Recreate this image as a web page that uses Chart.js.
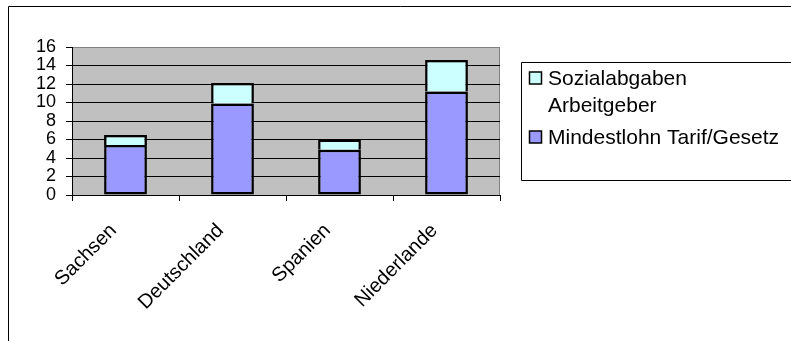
<!DOCTYPE html>
<html>
<head>
<meta charset="utf-8">
<script src="https://cdn.jsdelivr.net/npm/chart.js@4"></script>
<style>
  html, body { margin: 0; padding: 0; background: #fff; }
  canvas { display: block; }
</style>
</head>
<body>
<canvas id="c" width="791" height="341"></canvas>
<script>
// Hourly labour cost: minimum wage plus employer social contributions (EUR)
const categories = ['Sachsen', 'Deutschland', 'Spanien', 'Niederlande'];
const mindestlohn = [5.4, 9.9, 4.9, 11.2];
const sozialabgaben = [1.1, 2.2, 1.1, 3.4];
const yTicks = [0, 2, 4, 6, 8, 10, 12, 14, 16];

// legend text, line by line
const labelMindestlohn = ['Mindestlohn Tarif/Gesetz'];
const labelSozialabgaben = ['Sozialabgaben', 'Arbeitgeber'];

const FONT = '"Liberation Sans", Arial, sans-serif';

// Page frame, plot-area fill and the boxed legend on the right
const framePlugin = {
  id: 'frame',
  beforeDraw(chart) {
    const ctx = chart.ctx;
    const a = chart.chartArea;
    ctx.save();
    ctx.fillStyle = '#ffffff';
    ctx.fillRect(0, 0, chart.width, chart.height);

    // outer frame (top and left edges visible)
    ctx.strokeStyle = '#000000';
    ctx.lineWidth = 1;
    ctx.beginPath();
    ctx.moveTo(8.5, chart.height + 2);
    ctx.lineTo(8.5, 6.5);
    ctx.lineTo(chart.width + 2, 6.5);
    ctx.stroke();

    // plot area
    ctx.fillStyle = '#c0c0c0';
    ctx.fillRect(a.left, a.top, a.right - a.left, a.bottom - a.top);
    ctx.strokeStyle = '#808080';
    ctx.beginPath();
    ctx.moveTo(a.left, a.top + 0.5);
    ctx.lineTo(a.right - 0.5, a.top + 0.5);
    ctx.lineTo(a.right - 0.5, a.bottom);
    ctx.stroke();

    // legend box
    const lb = { left: 521.5, top: 62.5, bottom: 180.5 };
    ctx.strokeStyle = '#000000';
    ctx.beginPath();
    ctx.moveTo(chart.width + 2, lb.top);
    ctx.lineTo(lb.left, lb.top);
    ctx.lineTo(lb.left, lb.bottom);
    ctx.lineTo(chart.width + 2, lb.bottom);
    ctx.stroke();

    // legend entries, top series first
    const items = chart.data.datasets.slice().reverse();
    ctx.font = '21px ' + FONT;
    ctx.textBaseline = 'middle';
    ctx.textAlign = 'left';
    let y = 78;
    items.forEach(ds => {
      ctx.fillStyle = ds.backgroundColor;
      ctx.fillRect(529.5, y - 6, 12, 12);
      ctx.strokeStyle = '#000000';
      ctx.lineWidth = 1.5;
      ctx.strokeRect(529.5, y - 6, 12, 12);
      ctx.fillStyle = '#000000';
      ds.legendLines.forEach(line => {
        ctx.fillText(line, 548, y + 1);
        y += 27;
      });
      y += 5;
    });
    ctx.restore();
  }
};

new Chart(document.getElementById('c'), {
  type: 'bar',
  data: {
    labels: categories,
    datasets: [
      {
        label: labelMindestlohn.join(' '),
        legendLines: labelMindestlohn,
        data: mindestlohn,
        backgroundColor: '#9999ff',
        borderColor: '#000000',
        borderWidth: 2.5,
        borderSkipped: false,
        categoryPercentage: 1,
        barPercentage: 0.4
      },
      {
        label: labelSozialabgaben.join(' '),
        legendLines: labelSozialabgaben,
        data: sozialabgaben,
        backgroundColor: '#ccffff',
        borderColor: '#000000',
        borderWidth: 2.5,
        borderSkipped: 'start',
        categoryPercentage: 1,
        barPercentage: 0.4
      }
    ]
  },
  options: {
    responsive: false,
    devicePixelRatio: 1,
    animation: false,
    layout: { padding: { top: 47, right: 291, left: 0, bottom: 0 } },
    plugins: {
      legend: { display: false },
      tooltip: { enabled: false }
    },
    scales: {
      x: {
        stacked: true,
        offset: true,
        afterFit(s) { s.height = 146; },
        grid: {
          offset: true,
          drawOnChartArea: false,
          drawTicks: true,
          tickLength: 6,
          color: '#000000'
        },
        border: { display: true, color: '#000000', width: 1 },
        ticks: {
          color: '#000000',
          font: { family: FONT, size: 20 },
          maxRotation: 45,
          minRotation: 45,
          padding: 18,
          labelOffset: -12
        }
      },
      y: {
        stacked: true,
        min: 0,
        max: 16,
        afterFit(s) { s.width = 72; },
        afterBuildTicks(s) { s.ticks = yTicks.map(v => ({ value: v })); },
        grid: {
          color: ctx => (ctx.tick && ctx.tick.value === 16 ? '#808080' : '#000000'),
          tickColor: '#000000',
          tickLength: 6,
          lineWidth: 1
        },
        border: { display: true, color: '#000000', width: 1 },
        ticks: {
          color: '#000000',
          font: { family: FONT, size: 18 },
          padding: 10,
          autoSkip: false
        }
      }
    }
  },
  plugins: [framePlugin]
});
</script>
</body>
</html>
